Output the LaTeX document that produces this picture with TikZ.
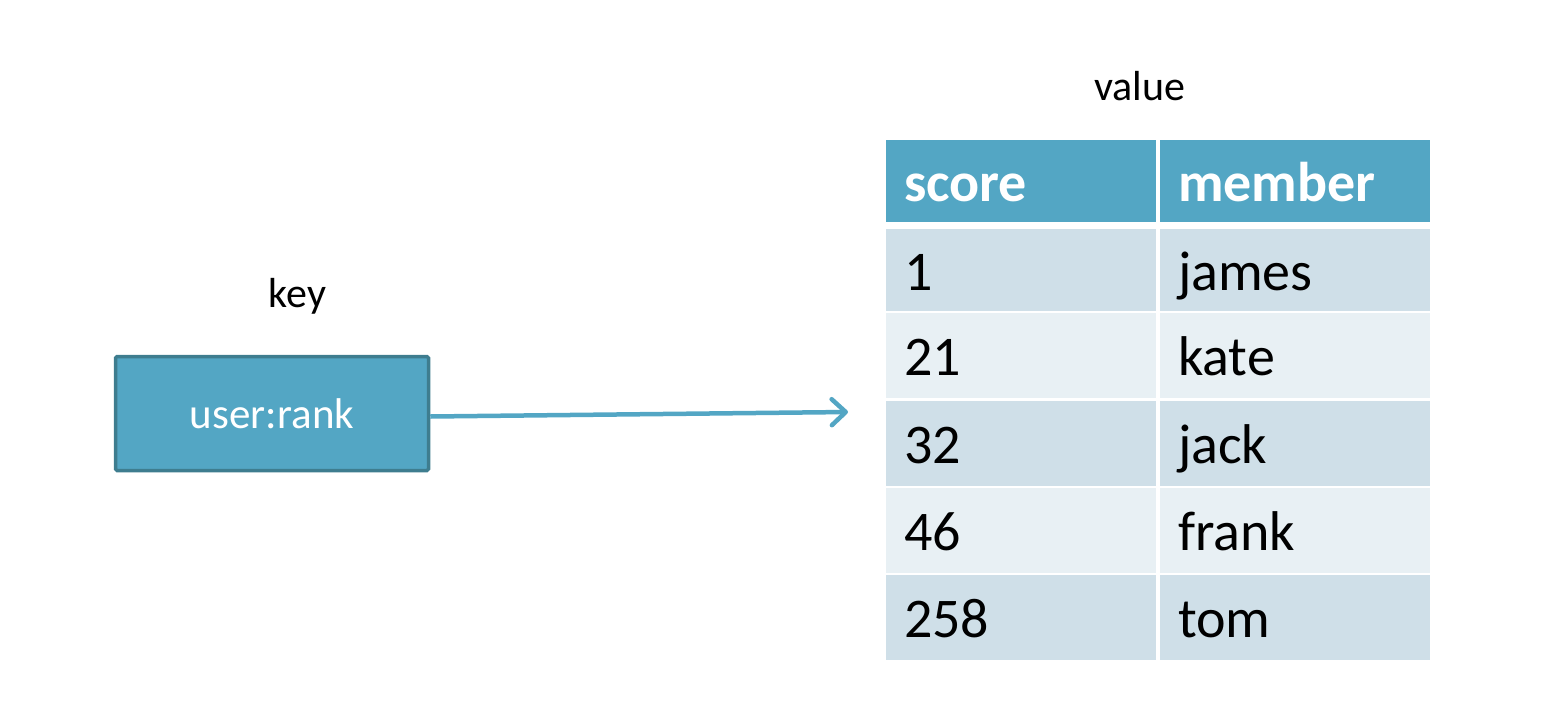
\documentclass[tikz,border=0pt]{standalone}
\usepackage{fontspec}
\setmainfont{Carlito}
\usetikzlibrary{arrows.meta}
\definecolor{teal1}{RGB}{83,166,196}
\definecolor{tealdark}{RGB}{62,125,143}
\definecolor{rowdark}{RGB}{207,223,232}
\definecolor{rowlight}{RGB}{232,240,244}
\tikzset{
  lbl/.style={anchor=base, inner sep=0pt, font=\fontsize{42}{48}\selectfont},
  keybox/.style={draw=tealdark, line width=3.5pt, rounded corners=1.5pt, fill=teal1, minimum width=313pt, minimum height=114pt,
    inner sep=0pt, text=white, text height=30pt, text depth=0pt, font=\fontsize{43}{48}\selectfont},
  cell/.style={inner xsep=18pt, inner ysep=0pt, text width=234pt, minimum height=#1, align=left,
    text height=40pt, text depth=0pt, font=\fontsize{56}{60}\selectfont},
  hcell/.style={cell=82pt, fill=teal1, text=white, font=\fontsize{56}{60}\selectfont\bfseries},
  dcell/.style={cell=85pt, fill=rowdark, text=black},
  lcell/.style={cell=85pt, fill=rowlight, text=black},
  conn/.style={draw=teal1, line width=4.5pt,
    -{Straight Barb[length=14pt, width=26pt, line cap=round, line join=round]}}
}
\begin{document}
\begin{tikzpicture}[x=1pt, y=-1pt]
\useasboundingbox (0,0) rectangle (1568,726);
% labels
\node[lbl] (keylbl) at (297.5,307) {key};
\node[lbl] (vallbl) at (1140,100) {value};
% key box
\node[keybox] (key) at (272,413.5) {user:rank};
% table
\node[hcell] (h1) at (1021,181) {score};
\node[hcell] (h2) at (1295,181) {member};
\node[cell=82pt, fill=rowdark] (a1) at (1021,270) {1};
\node[cell=82pt, fill=rowdark] (a2) at (1295,270) {james};
\node[lcell] (b1) at (1021,355.5) {21};
\node[lcell] (b2) at (1295,355.5) {kate};
\node[dcell] (c1) at (1021,443.5) {32};
\node[dcell] (c2) at (1295,443.5) {jack};
\node[lcell] (d1) at (1021,530.5) {46};
\node[lcell] (d2) at (1295,530.5) {frank};
\node[dcell] (e1) at (1021,617.5) {258};
\node[dcell] (e2) at (1295,617.5) {tom};
% connector
\coordinate (tip) at (848,412);
\draw[conn] ([yshift=-3pt]key.east) -- (tip);
\end{tikzpicture}
\end{document}
